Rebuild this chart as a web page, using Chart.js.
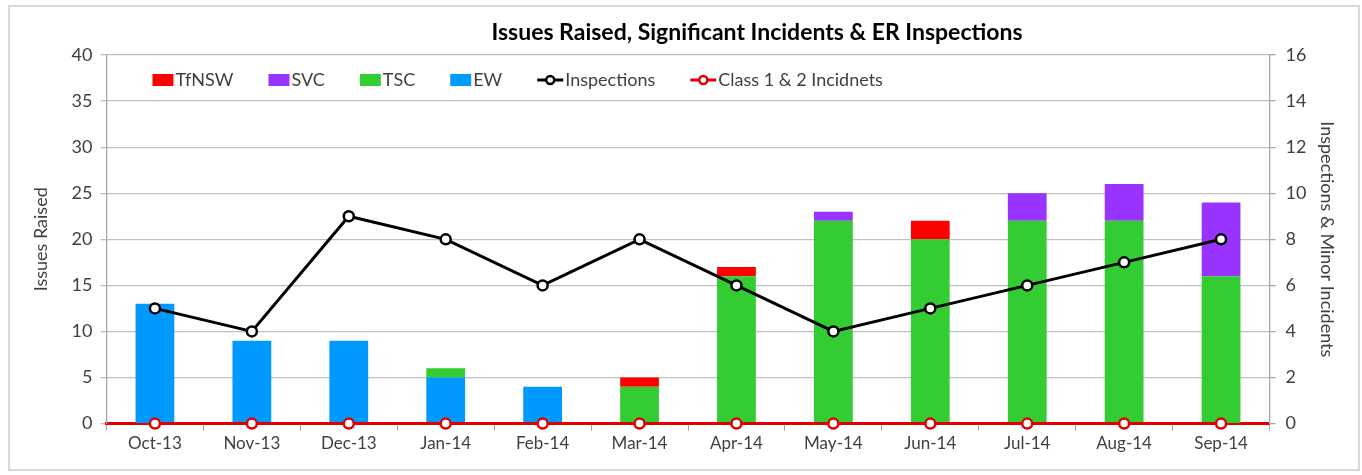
<!DOCTYPE html>
<html>
<head>
<meta charset="utf-8">
<script src="https://cdn.jsdelivr.net/npm/chart.js@4/dist/chart.umd.min.js"></script>
<style>
body { margin: 0; background: #fff; }
#frame { position: absolute; left: 8px; top: 5px; width: 1352px; height: 466px; border: 2px solid #d9d9d9; box-sizing: border-box; }
#wrap { position: absolute; left: 0; top: 0; width: 1362px; height: 475px; }
</style>
</head>
<body>
<div id="frame"></div>
<div id="wrap"><canvas id="myChart" width="1362" height="475"></canvas></div>
<script>
// months on the x axis
const months = ['Oct-13','Nov-13','Dec-13','Jan-14','Feb-14','Mar-14','Apr-14','May-14','Jun-14','Jul-14','Aug-14','Sep-14'];

// issues raised, stacked (bottom to top: EW, TSC, SVC, TfNSW)
const ewIssues    = [13, 9, 9, 5, 4, 0, 0, 0, 0, 0, 0, 0];
const tscIssues   = [0, 0, 0, 1, 0, 4, 16, 22, 20, 22, 22, 16];
const svcIssues   = [0, 0, 0, 0, 0, 0, 0, 1, 0, 3, 4, 8];
const tfnswIssues = [0, 0, 0, 0, 0, 1, 1, 0, 2, 0, 0, 0];

// right axis
const inspections = [5, 4, 9, 8, 6, 8, 6, 4, 5, 6, 7, 8];
const incidents   = [0, 0, 0, 0, 0, 0, 0, 0, 0, 0, 0, 0];

const legendOrder = [3, 2, 1, 0, 4, 5];
const fontName = 'Lato, "Liberation Sans", sans-serif';
const textColor = '#404040';

// title drawn a bit right of centre, like the original sheet
const titlePlugin = {
    id: 'sheetTitle',
    afterDraw: function(chart) {
        const ctx = chart.ctx;
        ctx.save();
        ctx.font = 'bold 23px ' + fontName;
        ctx.fillStyle = '#000';
        ctx.textAlign = 'center';
        ctx.textBaseline = 'middle';
        ctx.fillText('Issues Raised, Significant Incidents & ER Inspections', 757, 33);
        ctx.restore();
    }
};

// legend sits inside the plot area on one row
const insideLegend = {
    id: 'insideLegend',
    afterDatasetsDraw: function(chart) {
        const ctx = chart.ctx;
        const area = chart.chartArea;
        let x = area.left + 46;
        const y = area.top + 25;
        ctx.save();
        ctx.font = '18px ' + fontName;
        ctx.textBaseline = 'middle';
        legendOrder.forEach(function(i) {
            const ds = chart.data.datasets[i];
            let iconW;
            if (ds.type === 'line') {
                iconW = 26;
                ctx.strokeStyle = ds.borderColor;
                ctx.lineWidth = 3;
                ctx.beginPath();
                ctx.moveTo(x, y);
                ctx.lineTo(x + iconW, y);
                ctx.stroke();
                ctx.beginPath();
                ctx.arc(x + iconW / 2, y, 4, 0, Math.PI * 2);
                ctx.fillStyle = '#fff';
                ctx.fill();
                ctx.lineWidth = 2.5;
                ctx.stroke();
            } else {
                iconW = 21;
                ctx.fillStyle = ds.backgroundColor;
                ctx.fillRect(x, y - 6, iconW, 12);
            }
            x += iconW + 2;
            ctx.fillStyle = textColor;
            ctx.fillText(ds.label, x, y);
            x += ctx.measureText(ds.label).width + 35;
        });
        ctx.restore();
    }
};

const ctx = document.getElementById('myChart').getContext('2d');
const myChart = new Chart(ctx, {
    type: 'bar',
    data: {
        labels: months,
        datasets: [{
            label: 'EW',
            data: ewIssues,
            backgroundColor: '#0099ff',
            stack: 'issues',
            yAxisID: 'y'
        }, {
            label: 'TSC',
            data: tscIssues,
            backgroundColor: '#33cc33',
            stack: 'issues',
            yAxisID: 'y'
        }, {
            label: 'SVC',
            data: svcIssues,
            backgroundColor: '#9933ff',
            stack: 'issues',
            yAxisID: 'y'
        }, {
            label: 'TfNSW',
            data: tfnswIssues,
            backgroundColor: '#ff0000',
            stack: 'issues',
            yAxisID: 'y'
        }, {
            type: 'line',
            label: 'Inspections',
            data: inspections,
            borderColor: '#000000',
            backgroundColor: '#ffffff',
            borderWidth: 3,
            pointRadius: 5,
            pointBorderWidth: 2.5,
            pointBackgroundColor: '#ffffff',
            pointBorderColor: '#000000',
            tension: 0,
            yAxisID: 'y1',
            order: -1
        }, {
            type: 'line',
            label: 'Class 1 & 2 Incidnets',
            data: incidents,
            borderColor: '#e00000',
            backgroundColor: '#ffffff',
            borderWidth: 3,
            pointRadius: 5,
            pointBorderWidth: 2.5,
            pointBackgroundColor: '#ffffff',
            pointBorderColor: '#e00000',
            tension: 0,
            yAxisID: 'y1',
            order: -2,
            clip: false
        }]
    },
    options: {
        responsive: false,
        animation: false,
        layout: {
            padding: { left: 30, right: 12, top: 55, bottom: 18 }
        },
        datasets: {
            bar: {
                categoryPercentage: 1,
                barPercentage: 0.4
            }
        },
        plugins: {
            legend: { display: false },
            title: { display: false },
            tooltip: { enabled: false }
        },
        scales: {
            x: {
                stacked: true,
                grid: {
                    display: true,
                    drawOnChartArea: false,
                    drawTicks: true,
                    tickLength: 7,
                    color: '#a6a6a6',
                    offset: true
                },
                border: { color: '#e00000', width: 3 },
                ticks: {
                    color: textColor,
                    font: { size: 17, family: fontName },
                    maxRotation: 0,
                    padding: 3
                }
            },
            y: {
                stacked: true,
                position: 'left',
                min: 0,
                max: 40,
                ticks: {
                    stepSize: 5,
                    color: textColor,
                    font: { size: 18, family: fontName },
                    padding: 8
                },
                grid: {
                    color: '#bfbfbf',
                    lineWidth: 1.3,
                    tickLength: 6
                },
                border: { color: '#a6a6a6', width: 1.3 },
                title: {
                    display: true,
                    text: 'Issues Raised',
                    color: textColor,
                    font: { size: 18, family: fontName },
                    padding: { top: 0, bottom: 12 }
                }
            },
            y1: {
                position: 'right',
                min: 0,
                max: 16,
                ticks: {
                    stepSize: 2,
                    color: textColor,
                    font: { size: 18, family: fontName },
                    padding: 10
                },
                grid: {
                    drawOnChartArea: false,
                    color: '#a6a6a6',
                    lineWidth: 1.3,
                    tickLength: 6
                },
                border: { color: '#a6a6a6', width: 1.3 },
                title: {
                    display: true,
                    text: 'Inspections & Minor Incidents',
                    color: textColor,
                    font: { size: 18, family: fontName },
                    padding: { top: 12, bottom: 0 }
                }
            }
        }
    },
    plugins: [titlePlugin, insideLegend]
});
</script>
</body>
</html>
